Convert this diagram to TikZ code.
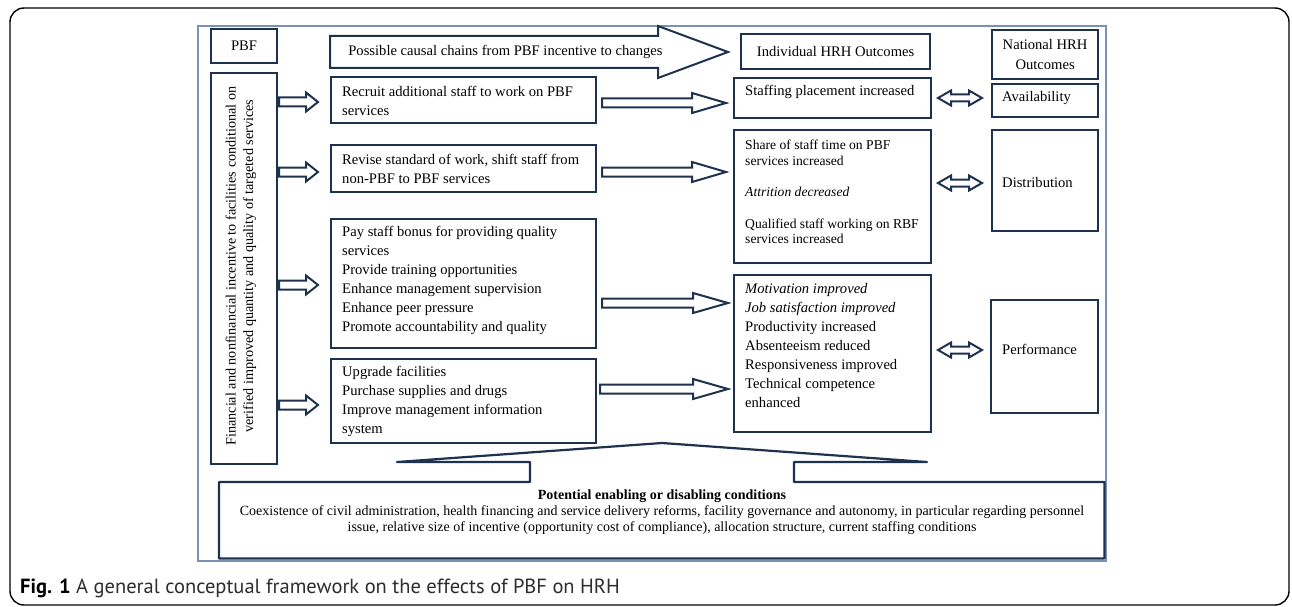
\documentclass[tikz,border=0pt]{standalone}
\usepackage{fontspec}
\usepackage{graphicx}
\setmainfont{Liberation Serif}
\newfontfamily\capfont{PT Sans}
\usetikzlibrary{calc}
\definecolor{navy}{RGB}{30,50,80}
\definecolor{frameblue}{RGB}{120,145,180}
\definecolor{capgray}{RGB}{45,45,45}
\newcommand{\fmain}{\fontsize{14.6}{19}\selectfont}
\newcommand{\fsmall}{\fontsize{13.6}{15.7}\selectfont}
\newcommand{\blockarrow}[5]{%
  \draw[arrowsty] let \p1=(#1), \p2=(#2) in
    (\x1,\y1+#3) -- (\x2-#5,\y1+#3) -- (\x2-#5,\y1+#4) -- (\x2,\y1)
    -- (\x2-#5,\y1-#4) -- (\x2-#5,\y1-#3) -- (\x1,\y1-#3) -- cycle;}
\newcommand{\dblarrow}[5]{%
  \draw[arrowsty] let \p1=(#1), \p2=(#2) in
    (\x1,\y1) -- (\x1+#5,\y1+#4) -- (\x1+#5,\y1+#3) -- (\x2-#5,\y1+#3)
    -- (\x2-#5,\y1+#4) -- (\x2,\y1) -- (\x2-#5,\y1-#4) -- (\x2-#5,\y1-#3)
    -- (\x1+#5,\y1-#3) -- (\x1+#5,\y1-#4) -- cycle;}
\tikzset{
  box/.style={draw=navy, line width=2.2pt, fill=white, anchor=north west, inner sep=0pt},
  arrowsty/.style={draw=navy, line width=2pt, fill=white, line join=miter},
  txt/.style={inner sep=0pt, align=left, anchor=west, font=\fmain},
  ctxt/.style={inner sep=0pt, align=center, font=\fmain},
}
\begin{document}
\begin{tikzpicture}[x=1pt,y=-1pt]
\useasboundingbox (0,0) rectangle (1292,607);
% frames
\draw[line width=1.4pt, rounded corners=14pt] (10,8) rectangle (1289,605);
\draw[frameblue, line width=1.2pt] (198,26) rectangle (1106,561);

% left column
\node[box, minimum width=66pt, minimum height=34pt] (pbf) at (210,28) {};
\node[ctxt] (pbft) at (pbf.center) {PBF};
\node[box, minimum width=66pt, minimum height=391pt] (vbox) at (210,72) {};
\node[ctxt, rotate=90, font=\fontsize{14.2}{17.5}\selectfont] (vtext) at (241,266)
  {Financial and nonfinancial incentive to facilities conditional on\\verified improved quantity and quality of targeted services};

% big arrow
\coordinate (bigs) at (330,52);
\coordinate (bige) at (728,52);
\blockarrow{bigs}{bige}{16pt}{26pt}{70pt}
\node[ctxt] (bigt) at (505.5,52) {Possible causal chains from PBF incentive to changes};

% middle boxes
\node[box, minimum width=265pt, minimum height=46pt] (recruit) at (330,76) {};
\node[txt] (recruitt) at (342,100.5) {Recruit additional staff to work on PBF\\services};
\node[box, minimum width=265pt, minimum height=47pt] (revise) at (330,144) {};
\node[txt] (reviset) at (342,168.5) {Revise standard of work, shift staff from\\non-PBF to PBF services};
\node[box, minimum width=265pt, minimum height=129pt] (pay) at (330,218) {};
\node[txt] (payt) at (342,280.5) {Pay staff bonus for providing quality\\services\\Provide training opportunities\\Enhance management supervision\\Enhance peer pressure\\Promote accountability and quality};
\node[box, minimum width=265pt, minimum height=84pt] (upgrade) at (330,358) {};
\node[txt] (upgradet) at (342,401) {Upgrade facilities\\Purchase supplies and drugs\\Improve management information\\system};

% individual outcomes
\node[box, minimum width=189pt, minimum height=35pt] (indiv) at (740,33) {};
\node[ctxt] (indivt) at (indiv.center) {Individual HRH Outcomes};
\node[box, minimum width=197pt, minimum height=40pt] (staff) at (733,77) {};
\node[txt] (stafft) at (745,92) {Staffing placement increased};
\node[box, minimum width=197pt, minimum height=133pt] (share) at (733,129) {};
\node[txt, font=\fsmall] (sharet) at (745,192)
  {Share of staff time on PBF\\services increased\\[15.7pt]\textit{Attrition decreased}\\[15.7pt]Qualified staff working on RBF\\services increased};
\node[box, minimum width=197pt, minimum height=157pt] (motiv) at (733,274) {};
\node[txt] (motivt) at (745,345.5)
  {\textit{Motivation improved}\\\textit{Job satisfaction improved}\\Productivity increased\\Absenteeism reduced\\Responsiveness improved\\Technical competence\\enhanced};

% national outcomes
\node[box, minimum width=106pt, minimum height=49pt] (nat) at (991,29) {};
\node[ctxt, font=\fontsize{14.6}{20}\selectfont] (natt) at (nat.center) {National HRH\\Outcomes};
\node[box, minimum width=106pt, minimum height=33pt] (avail) at (991,83) {};
\node[txt] (availt) at (1002,98) {Availability};
\node[box, minimum width=106pt, minimum height=101pt] (distr) at (991,129) {};
\node[txt] (distrt) at (1002,183) {Distribution};
\node[box, minimum width=107pt, minimum height=113pt] (perf) at (990,299) {};
\node[txt] (perft) at (1002,349) {Performance};

% small left arrows
\coordinate (l1s) at (279,102); \coordinate (l1e) at (318,102);
\coordinate (l2s) at (279,172); \coordinate (l2e) at (318,172);
\coordinate (l3s) at (279,285); \coordinate (l3e) at (318,285);
\coordinate (l4s) at (279,405); \coordinate (l4e) at (318,405);
\blockarrow{l1s}{l1e}{4.5pt}{9.5pt}{12pt}
\blockarrow{l2s}{l2e}{4.5pt}{9.5pt}{12pt}
\blockarrow{l3s}{l3e}{4.5pt}{9.5pt}{12pt}
\blockarrow{l4s}{l4e}{4.5pt}{9.5pt}{12pt}

% middle arrows
\coordinate (m1s) at (602,103); \coordinate (m1e) at (726,103);
\coordinate (m2s) at (602,172); \coordinate (m2e) at (726,172);
\coordinate (m3s) at (602,303); \coordinate (m3e) at (728,303);
\coordinate (m4s) at (600,389); \coordinate (m4e) at (728,389);
\blockarrow{m1s}{m1e}{4.5pt}{10pt}{34pt}
\blockarrow{m2s}{m2e}{4.5pt}{10pt}{34pt}
\blockarrow{m3s}{m3e}{4.5pt}{10pt}{35pt}
\blockarrow{m4s}{m4e}{4.5pt}{10pt}{35pt}

% double arrows
\coordinate (d1s) at (938,98);  \coordinate (d1e) at (982,98);
\coordinate (d2s) at (938,183); \coordinate (d2e) at (982,183);
\coordinate (d3s) at (938,350); \coordinate (d3e) at (982,350);
\dblarrow{d1s}{d1e}{3.5pt}{7.5pt}{13pt}
\dblarrow{d2s}{d2e}{3.5pt}{7.5pt}{13pt}
\dblarrow{d3s}{d3e}{3.5pt}{7.5pt}{13pt}

% conditions callout
\node[inner sep=0pt, anchor=north west, minimum width=885pt, minimum height=76pt] (cond) at (219,482) {};
\draw[draw=navy, line width=2.2pt, line join=round, fill=white]
  (cond.north west) -- (530,482) -- (530,462) -- (397,462) -- (662,443) -- (927,462)
  -- (794,462) -- (794,482) -- (cond.north east) -- (cond.south east) -- (cond.south west) -- cycle;
\node[ctxt, font=\fontsize{14}{16}\selectfont] (condt) at (662,512)
  {\textbf{Potential enabling or disabling conditions}\\
   Coexistence of civil administration, health financing and service delivery reforms, facility governance and autonomy, in particular regarding personnel\\
   issue, relative size of incentive (opportunity cost of compliance), allocation structure, current staffing conditions};

% caption
\node[anchor=base west, inner sep=0pt, text=capgray, font=\capfont\fontsize{20.5}{24}\selectfont] (cap) at (20,593)
  {\textbf{\color{black}Fig. 1} A general conceptual framework on the effects of PBF on HRH};
\end{tikzpicture}
\end{document}
